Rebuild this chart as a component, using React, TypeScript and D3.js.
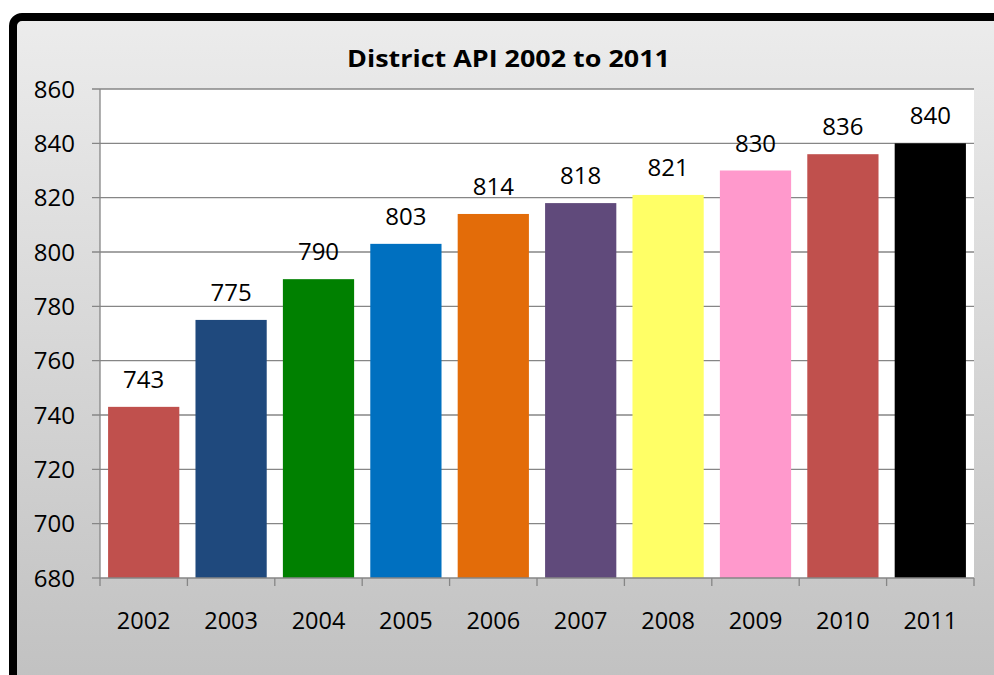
import React from "react";
import * as d3 from "d3";

const years = ["2002", "2003", "2004", "2005", "2006", "2007", "2008", "2009", "2010", "2011"];
const values = [743, 775, 790, 803, 814, 818, 821, 830, 836, 840];
const colors = ["#C0504D", "#1F497D", "#008000", "#0070C0", "#E36C09", "#604A7B", "#FFFF66", "#FF99CC", "#C0504D", "#000000"];
const yTicks = [680, 700, 720, 740, 760, 780, 800, 820, 840, 860];
const title = "District API 2002 to 2011";

export default function App() {
  const W = 994, H = 675;
  const left = 100, right = 974, top = 89, bottom = 578;
  const x = d3.scaleBand<string>().domain(years).range([left, right]).paddingInner(0.185).paddingOuter(0.0925);
  const xb = d3.scaleBand<string>().domain(years).range([left, right]);
  const y = d3.scaleLinear().domain([680, 860]).range([bottom, top]);
  const font = "'Open Sans', sans-serif";
  const axisColor = "#868686";
  return (
    <svg width={W} height={H} style={{ position: "absolute", left: 0, top: 0, background: "#fff" }} fontFamily={font}>
      <defs>
        <linearGradient id="bg" x1="0" y1="0" x2="0" y2="1">
          <stop offset="0%" stopColor="#ececec" />
          <stop offset="100%" stopColor="#bfbfbf" />
        </linearGradient>
      </defs>
      <rect x={13} y={17} width={1010} height={700} rx={9} fill="url(#bg)" stroke="#000" strokeWidth={8} />
      <rect x={left} y={top} width={right - left} height={bottom - top} fill="#fff" />
      {yTicks.map((t) => (
        <g key={t}>
          <line x1={left - 8} x2={t === 680 ? left : right} y1={y(t)} y2={y(t)} stroke={axisColor} strokeWidth={1.3} />
          <text x={75} y={y(t) + 8.5} textAnchor="end" fontSize={24} fill="#000">{t}</text>
        </g>
      ))}
      {years.map((yr, i) => (
        <g key={yr}>
          <rect x={x(yr)} y={y(values[i])} width={x.bandwidth()} height={bottom - y(values[i])} fill={colors[i]} />
          <text x={(x(yr) as number) + x.bandwidth() / 2} y={y(values[i]) - 19} textAnchor="middle" fontSize={24} fill="#000">{values[i]}</text>
          <text x={(xb(yr) as number) + xb.bandwidth() / 2} y={629} textAnchor="middle" fontSize={23.5} fill="#000">{yr}</text>
        </g>
      ))}
      <line x1={left} x2={left} y1={top} y2={bottom} stroke={axisColor} strokeWidth={1.3} />
      <line x1={left} x2={right} y1={bottom} y2={bottom} stroke={axisColor} strokeWidth={1.3} />
      {[...years.map((yr) => xb(yr) as number), right].map((v, i) => (
        <line key={i} x1={v} x2={v} y1={bottom} y2={bottom + 8} stroke={axisColor} strokeWidth={1.3} />
      ))}
      <text x={508.5} y={66.7} textAnchor="middle" fontSize={24} fontWeight="bold" fill="#000" textLength={323} lengthAdjust="spacingAndGlyphs">{title}</text>
    </svg>
  );
}
